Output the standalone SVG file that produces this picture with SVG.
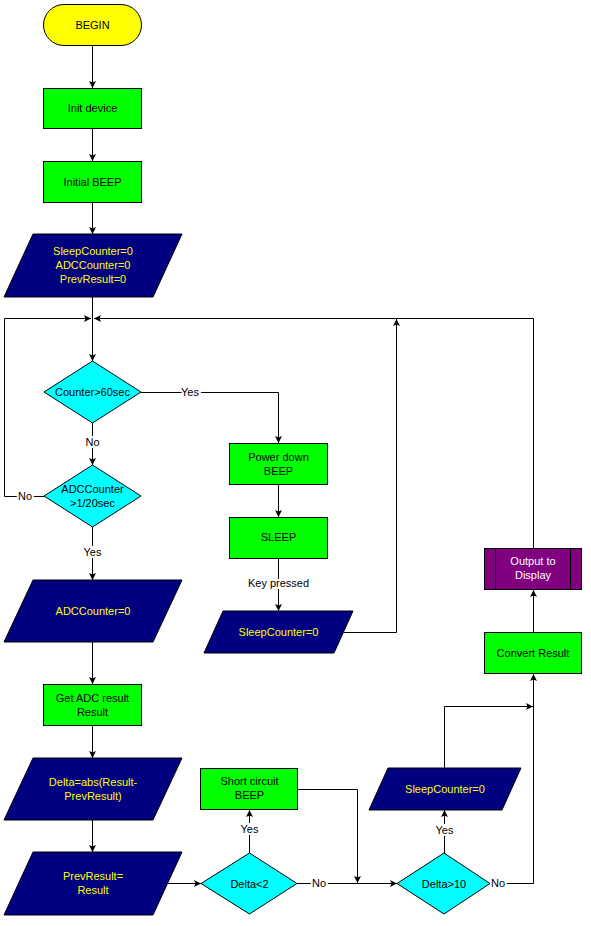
<svg xmlns="http://www.w3.org/2000/svg" width="591" height="926" viewBox="0 0 591 926">
<defs>
<marker id="arr" markerUnits="userSpaceOnUse" markerWidth="8" markerHeight="8" refX="7" refY="3.5" orient="auto">
<path d="M0,0 L7,3.5 L0,7 L1.5,3.5 z" fill="#000"/>
</marker>
<style>
.t{font-family:"Liberation Sans",Arial,sans-serif;font-size:11px;text-anchor:middle}
.blk{fill:#000}
.yel{fill:#FFFF00}
.wht{fill:#FFFFFF}
.proc{fill:#00FF00;stroke:#000;stroke-width:1}
.io{fill:#000080;stroke:#000;stroke-width:1}
.dec{fill:#00FFFF;stroke:#000;stroke-width:1}
.term{fill:#FFFF00;stroke:#000;stroke-width:1}
.sub{fill:#800080;stroke:#000;stroke-width:1}
.c{fill:none;stroke:#000;stroke-width:1}
.ca{fill:none;stroke:#000;stroke-width:1;marker-end:url(#arr)}
.lbl{font-family:"Liberation Sans",Arial,sans-serif;font-size:11px;text-anchor:middle;fill:#000;stroke:#fff;stroke-width:4;paint-order:stroke}
</style>
</defs>
<rect width="591" height="926" fill="#fff"/>

<g id="connectors">
<path class="ca" d="M92.5,46 V88"/>
<path class="ca" d="M92.5,129 V161"/>
<path class="ca" d="M92.5,203 V234"/>
<path class="ca" d="M92.5,297 V361"/>
<path class="ca" d="M141,392.5 H278.5 V443"/>
<path class="ca" d="M92.5,423 V465"/>
<path class="ca" d="M44,496.5 H4.5 V318.5 H91"/>
<path class="ca" d="M92.5,527 V580"/>
<path class="ca" d="M92.5,642 V684"/>
<path class="ca" d="M92.5,726 V758"/>
<path class="ca" d="M92.5,820 V852"/>
<path class="ca" d="M167,883.5 H201"/>
<path class="ca" d="M249.5,853 V810"/>
<path class="ca" d="M297,883.5 H397"/>
<path class="ca" d="M298,789.5 H357.5 V883"/>
<path class="ca" d="M444.5,853 V810"/>
<path class="ca" d="M490,883.5 H533.5 V674"/>
<path class="ca" d="M444.5,768 V706.5 H533"/>
<path class="ca" d="M533.5,632 V590"/>
<path class="ca" d="M533.5,548 V318.5 H94"/>
<path class="ca" d="M278.5,485 V517"/>
<path class="ca" d="M278.5,559 V611"/>
<path class="ca" d="M344,632.5 H396.5 V319"/>
<text class="lbl" x="190" y="396">Yes</text>
<text class="lbl" x="92.5" y="446">No</text>
<text class="lbl" x="25" y="500">No</text>
<text class="lbl" x="92.5" y="556">Yes</text>
<text class="lbl" x="278.5" y="587">Key pressed</text>
<text class="lbl" x="249.5" y="833">Yes</text>
<text class="lbl" x="319" y="887">No</text>
<text class="lbl" x="444.5" y="834">Yes</text>
<text class="lbl" x="498" y="887">No</text>
</g>

<g id="begin">
<rect class="term" x="43.5" y="4.5" width="98" height="41" rx="20.5"/>
<text class="t blk" x="92.5" y="29">BEGIN</text>
</g>
<g id="init-device">
<rect class="proc" x="43.5" y="88.5" width="98" height="40"/>
<text class="t blk" x="92.5" y="112">Init device</text>
</g>
<g id="initial-beep">
<rect class="proc" x="43.5" y="161.5" width="98" height="41"/>
<text class="t blk" x="92.5" y="186">Initial BEEP</text>
</g>
<g id="init-vars">
<polygon class="io" points="33,234 182,234 153,297 4,297"/>
<text class="t yel" x="93" y="255">SleepCounter=0</text>
<text class="t yel" x="93" y="269">ADCCounter=0</text>
<text class="t yel" x="93" y="283">PrevResult=0</text>
</g>
<g id="counter-60sec">
<polygon class="dec" points="92.5,361 141,392 92.5,423 44,392"/>
<text class="t blk" x="92.5" y="396">Counter&gt;60sec</text>
</g>
<g id="adccounter-check">
<polygon class="dec" points="92.5,465 141,496 92.5,527 44,496"/>
<text class="t blk" x="92.5" y="493">ADCCounter</text>
<text class="t blk" x="92.5" y="507">&gt;1/20sec</text>
</g>
<g id="adccounter-reset">
<polygon class="io" points="33,580 182,580 153,642 4,642"/>
<text class="t yel" x="93" y="615">ADCCounter=0</text>
</g>
<g id="get-adc">
<rect class="proc" x="43.5" y="684.5" width="98" height="41"/>
<text class="t blk" x="92.5" y="702">Get ADC result</text>
<text class="t blk" x="92.5" y="716">Result</text>
</g>
<g id="delta-calc">
<polygon class="io" points="33,758 182,758 153,820 4,820"/>
<text class="t yel" x="93" y="786">Delta=abs(Result-</text>
<text class="t yel" x="93" y="800">PrevResult)</text>
</g>
<g id="prevresult">
<polygon class="io" points="33,852 182,852 153,915 4,915"/>
<text class="t yel" x="93" y="880">PrevResult=</text>
<text class="t yel" x="93" y="894">Result</text>
</g>
<g id="power-down-beep">
<rect class="proc" x="229.5" y="443.5" width="98" height="41"/>
<text class="t blk" x="278.5" y="461">Power down</text>
<text class="t blk" x="278.5" y="475">BEEP</text>
</g>
<g id="sleep">
<rect class="proc" x="229.5" y="517.5" width="98" height="41"/>
<text class="t blk" x="278.5" y="541">SLEEP</text>
</g>
<g id="sleepcounter-1">
<polygon class="io" points="223,611 353,611 334,653 204,653"/>
<text class="t yel" x="278.5" y="636">SleepCounter=0</text>
</g>
<g id="short-circuit-beep">
<rect class="proc" x="200.5" y="768.5" width="97" height="41"/>
<text class="t blk" x="249.5" y="785">Short circuit</text>
<text class="t blk" x="249.5" y="799">BEEP</text>
</g>
<g id="delta-lt-2">
<polygon class="dec" points="249.5,853 297,883.5 249.5,914 201,883.5"/>
<text class="t blk" x="249.5" y="888">Delta&lt;2</text>
</g>
<g id="sleepcounter-2">
<polygon class="io" points="388,768 521,768 502,810 369,810"/>
<text class="t yel" x="445" y="793">SleepCounter=0</text>
</g>
<g id="delta-gt-10">
<polygon class="dec" points="444,853 490,883.5 444,914 397,883.5"/>
<text class="t blk" x="444" y="888">Delta&gt;10</text>
</g>
<g id="convert-result">
<rect class="proc" x="484.5" y="632.5" width="97" height="41"/>
<text class="t blk" x="533" y="657">Convert Result</text>
</g>
<g id="output-display">
<rect class="sub" x="484.5" y="548.5" width="97" height="41"/>
<path d="M495.5,548.5 V589.5 M570.5,548.5 V589.5" stroke="#000" stroke-width="1" fill="none"/>
<text class="t wht" x="533" y="565">Output to</text>
<text class="t wht" x="533" y="579">Display</text>
</g>
</svg>
